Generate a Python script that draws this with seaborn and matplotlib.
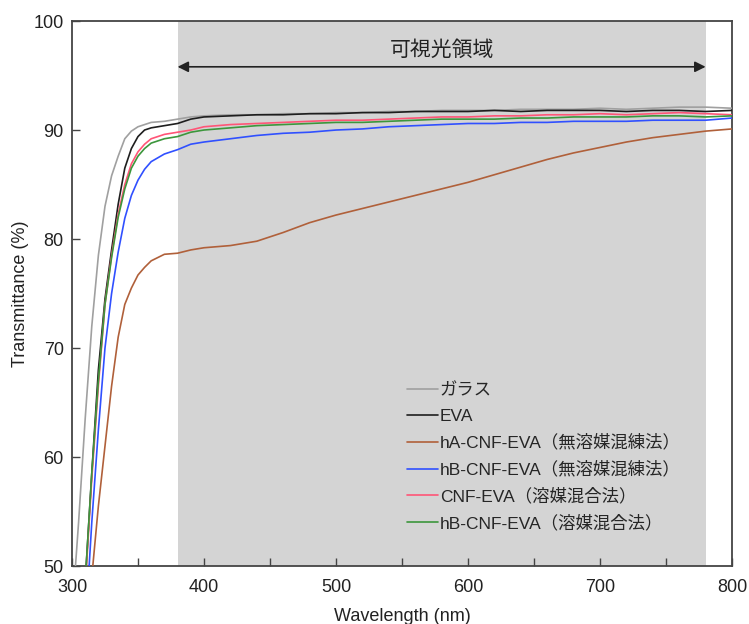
import matplotlib
matplotlib.use("Agg")
import matplotlib.pyplot as plt
import numpy as np
import pandas as pd
import seaborn as sns

# Wavelength grid (nm): fine steps across the absorption edge, coarser on the plateau
wavelength = [300, 305, 310, 315, 320, 325, 330, 335, 340, 345, 350, 355, 360,
              370, 380, 390,
              400, 420, 440, 460, 480, 500, 520, 540, 560, 580, 600,
              620, 640, 660, 680, 700, 720, 740, 760, 780, 800]

# Transmittance (%) of each sample
glass = [45.5, 54.0, 63.5, 72.0, 78.5, 83.0, 85.8, 87.6, 89.2, 89.9, 90.3, 90.5, 90.7,
         90.8, 91.0, 91.2,
         91.3, 91.4, 91.4, 91.5, 91.5, 91.6, 91.6, 91.7, 91.7, 91.8, 91.8,
         91.8, 91.9, 91.9, 91.9, 92.0, 91.9, 92.0, 92.1, 92.1, 92.0]
eva = [30.0, 38.0, 48.5, 58.5, 68.0, 74.5, 79.0, 83.2, 86.5, 88.3, 89.4, 90.0, 90.2,
       90.4, 90.6, 91.0,
       91.2, 91.3, 91.4, 91.4, 91.5, 91.5, 91.6, 91.6, 91.7, 91.7, 91.7,
       91.8, 91.7, 91.8, 91.8, 91.8, 91.7, 91.8, 91.8, 91.7, 91.8]
ha_cnf_kneading = [20.0, 30.0, 40.0, 49.0, 55.5, 61.0, 66.5, 71.0, 74.0, 75.5, 76.7, 77.4, 78.0,
                   78.6, 78.7, 79.0,
                   79.2, 79.4, 79.8, 80.6, 81.5, 82.2, 82.8, 83.4, 84.0, 84.6, 85.2,
                   85.9, 86.6, 87.3, 87.9, 88.4, 88.9, 89.3, 89.6, 89.9, 90.1]
hb_cnf_kneading = [25.0, 33.0, 44.0, 54.0, 62.5, 70.0, 75.0, 78.8, 81.9, 84.0, 85.4, 86.4, 87.1,
                   87.8, 88.2, 88.7,
                   88.9, 89.2, 89.5, 89.7, 89.8, 90.0, 90.1, 90.3, 90.4, 90.5, 90.6,
                   90.6, 90.7, 90.7, 90.8, 90.8, 90.8, 90.9, 90.9, 90.9, 91.1]
cnf_solvent = [30.0, 38.0, 48.0, 58.0, 66.5, 74.0, 78.5, 82.3, 85.0, 86.9, 88.0, 88.7, 89.2,
               89.6, 89.8, 90.0,
               90.3, 90.5, 90.6, 90.7, 90.8, 90.9, 90.9, 91.0, 91.1, 91.2, 91.2,
               91.3, 91.3, 91.4, 91.4, 91.5, 91.4, 91.5, 91.6, 91.5, 91.4]
hb_cnf_solvent = [30.0, 38.5, 48.5, 58.5, 67.0, 74.0, 78.3, 82.0, 84.6, 86.5, 87.6, 88.3, 88.8,
                  89.2, 89.4, 89.8,
                  90.0, 90.2, 90.4, 90.5, 90.6, 90.7, 90.7, 90.8, 90.9, 91.0, 91.0,
                  91.0, 91.1, 91.1, 91.2, 91.2, 91.2, 91.3, 91.3, 91.2, 91.3]

labels = ["ガラス", "EVA",
          "hA-CNF-EVA（無溶媒混練法）", "hB-CNF-EVA（無溶媒混練法）",
          "CNF-EVA（溶媒混合法）", "hB-CNF-EVA（溶媒混合法）"]
series = [glass, eva, ha_cnf_kneading, hb_cnf_kneading, cnf_solvent, hb_cnf_solvent]
colors = ["#a0a0a0", "#1e1e1e", "#b0603a", "#3050ff", "#ff5577", "#3c963c"]

visible_range = [380, 780]
visible_label = "可視光領域"
x_ticks = [300, 400, 500, 600, 700, 800]
y_ticks = [50, 60, 70, 80, 90, 100]

df = pd.concat(
    [pd.DataFrame({"Wavelength": wavelength, "Transmittance": vals, "Sample": name})
     for name, vals in zip(labels, series)],
    ignore_index=True,
)

sns.set_style("ticks")
fonts = ["Liberation Sans", "Noto Sans CJK JP", "DejaVu Sans"]
plt.rcParams["font.family"] = fonts

fig = plt.figure(figsize=(7.49, 6.24), dpi=100)
ax = fig.add_axes([0.0961, 0.0929, 0.8812, 0.8734])

# visible-light band
ax.axvspan(visible_range[0], visible_range[1], color="#d4d4d4", lw=0, zorder=0)

sns.lineplot(data=df, x="Wavelength", y="Transmittance", hue="Sample",
             hue_order=labels, palette=dict(zip(labels, colors)),
             sort=False, estimator=None, linewidth=1.2, ax=ax, zorder=3)

# double-headed arrow spanning the visible band
ax.annotate("", xy=(visible_range[0], 95.8), xytext=(visible_range[1], 95.8),
            arrowprops=dict(arrowstyle="<|-|>", color="#222222", lw=1.2,
                            mutation_scale=16, shrinkA=0, shrinkB=0), zorder=4)
ax.text(sum(visible_range) / 2, 97.3, visible_label, ha="center", va="center",
        fontsize=15, color="#222222", family=fonts)

ax.set_xlim(300, 800)
ax.set_ylim(50, 100)
ax.set_xticks(x_ticks)
ax.set_xticks([350, 450, 550, 650, 750], minor=True)
ax.set_yticks(y_ticks)
ax.tick_params(axis="both", which="both", direction="in", length=6, width=1.0,
               color="#444444", labelsize=13, labelcolor="#222222", pad=9)
ax.tick_params(axis="y", pad=6)
for s in ax.spines.values():
    s.set_color("#444444")
    s.set_linewidth(1.3)

ax.set_xlabel("Wavelength (nm)", fontsize=13, color="#222222", labelpad=9)
ax.set_ylabel("Transmittance (%)", fontsize=13, color="#222222", labelpad=3)

handles, lbls = ax.get_legend_handles_labels()
ax.legend(handles, lbls, loc="upper left", bbox_to_anchor=(0.508, 0.336),
          frameon=False, handlelength=1.75, handletextpad=0.12,
          labelspacing=0.59, borderaxespad=0, borderpad=0,
          prop={"family": fonts, "size": 12.5})

fig.savefig("out.png", dpi=100)
